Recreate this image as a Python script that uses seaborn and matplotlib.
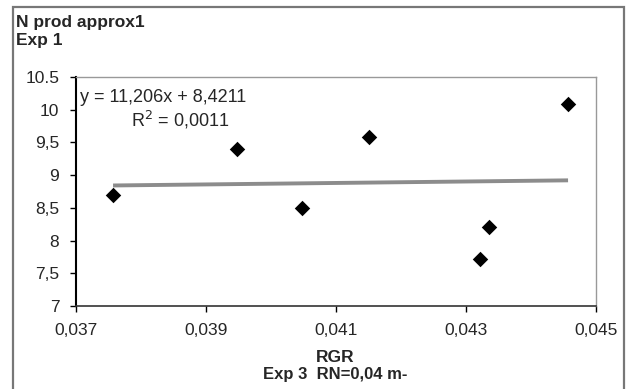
import numpy as np
import pandas as pd
import seaborn as sns
import matplotlib.pyplot as plt
from matplotlib.patches import Rectangle
from matplotlib.ticker import FuncFormatter

# values
rgr = [0.03757, 0.03947, 0.04047, 0.04150, 0.04322, 0.04335, 0.04457]
n_prod = [8.70, 9.40, 8.50, 9.58, 7.72, 8.20, 10.08]

# trendline coefficients as printed on the chart
slope = 11.206
intercept = 8.4211
r2_text = "0,0011"

x_ticks = [0.037, 0.039, 0.041, 0.043, 0.045]
y_ticks = [7, 7.5, 8, 8.5, 9, 9.5, 10, 10.5]

df = pd.DataFrame({"RGR": rgr, "N": n_prod})

sns.set_style("white")
plt.rcParams['font.family'] = ['Liberation Sans', 'DejaVu Sans']

fig = plt.figure(figsize=(6.31, 3.89), dpi=100)
ax = fig.add_axes([76 / 631, 1 - 306 / 389, (596 - 76) / 631, (306 - 77) / 389])

# outer chart frame
fig.patches.append(Rectangle((13 / 631, -0.05), (624 - 13) / 631, 1 - 7 / 389 + 0.05,
                             transform=fig.transFigure, fill=False,
                             edgecolor='#777777', linewidth=1.6))

# trendline
xs = np.array([min(rgr), max(rgr)])
ax.plot(xs, slope * xs + intercept, color='#8c8c8c', linewidth=2.8,
        solid_capstyle='butt', zorder=2)

sns.scatterplot(data=df, x="RGR", y="N", marker='D', s=62, color='black',
                edgecolor='black', linewidth=0, ax=ax, zorder=3)

ax.set_xlim(0.037, 0.045)
ax.set_ylim(7, 10.5)
ax.set_xticks(x_ticks)
ax.set_yticks(y_ticks)

def comma_fmt(v, pos):
    if abs(v - 10.5) < 1e-9:
        return "10.5"
    return ('%g' % v).replace('.', ',')

ax.xaxis.set_major_formatter(FuncFormatter(lambda v, p: ('%.3f' % v).replace('.', ',')))
ax.yaxis.set_major_formatter(FuncFormatter(comma_fmt))
ax.tick_params(axis='both', direction='out', length=4, width=1, color='black',
               labelsize=12.5, bottom=True, left=True)
ax.tick_params(axis='x', pad=8)
ax.tick_params(axis='y', pad=8)

for side in ['top', 'right']:
    ax.spines[side].set_linestyle((0, (1, 1)))
    ax.spines[side].set_color('#999999')
    ax.spines[side].set_linewidth(1)
ax.spines['left'].set_color('black')
ax.spines['left'].set_linewidth(1.5)
ax.spines['bottom'].set_color('#333333')
ax.spines['bottom'].set_linewidth(1.2)

ax.set_xlabel("")
ax.set_ylabel("")

fig.text(335 / 631, 1 - 357 / 389, "RGR", ha='center', va='center',
         fontsize=12.5, fontweight='bold')
fig.text(335 / 631, 1 - 375 / 389, "Exp 3  RN=0,04 m-", ha='center', va='center',
         fontsize=12, fontweight='bold')
fig.text(16 / 631, 1 - 15 / 389, "N prod approx1\nExp 1", ha='left', va='top',
         fontsize=12.5, fontweight='bold', linespacing=1.25)

ax.text(0.03706, 10.18, "y = 11,206x + 8,4211", fontsize=13, ha='left', va='center')
ax.text(0.0386, 9.84, "R$^2$ = " + r2_text, fontsize=13, ha='center', va='center')

fig.savefig("out.png", dpi=100)
